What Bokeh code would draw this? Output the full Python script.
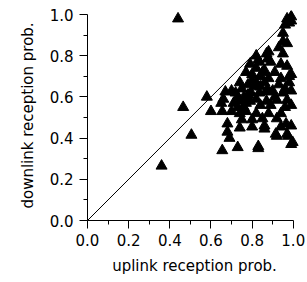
from bokeh.plotting import figure
from bokeh.models import Range1d, FixedTicker
from bokeh.embed import file_html
from bokeh.resources import INLINE

# uplink reception probability (x) and downlink reception probability (y)
uplink = [
    0.97, 0.99, 0.98, 0.96, 0.99, 0.95, 0.95, 0.97, 0.93, 0.88, 0.87, 0.95,
    0.875, 0.835, 0.89, 0.94, 0.97, 0.82, 0.86, 0.91, 0.98, 0.84, 0.88, 0.94,
    0.99, 0.80, 0.85,
    0.78, 0.81, 0.84, 0.875, 0.93, 0.98, 0.78, 0.795, 0.835, 0.87, 0.92, 0.97,
    0.89, 0.77, 0.80, 0.85, 0.92, 0.965, 0.99, 0.86, 0.94, 0.80, 0.86, 0.915,
    0.97, 0.997, 0.83,
    0.58, 0.67, 0.70, 0.66, 0.65, 0.71, 0.60, 0.655, 0.70, 0.74, 0.75, 0.68,
    0.74, 0.68, 0.69, 0.655, 0.73, 0.83, 0.99, 0.92, 0.975,
    0.72, 0.73, 0.74, 0.75, 0.76, 0.77, 0.79, 0.73, 0.76, 0.74, 0.77, 0.79,
    0.82, 0.83, 0.80, 0.82, 0.86, 0.90, 0.91, 0.95, 0.96, 0.99, 0.96, 0.99,
    0.94, 0.88, 0.82, 0.84, 0.87, 0.82,
    0.44, 0.465, 0.505, 0.36,
]
downlink = [
    0.98, 0.99, 0.96, 0.95, 0.97, 0.91, 0.87, 0.86, 0.84, 0.82, 0.81, 0.81,
    0.785, 0.77, 0.77, 0.76, 0.75, 0.74, 0.73, 0.72, 0.70, 0.70, 0.69, 0.69,
    0.71, 0.71, 0.72,
    0.66, 0.65, 0.65, 0.64, 0.66, 0.67, 0.61, 0.62, 0.62, 0.625, 0.585, 0.585,
    0.56, 0.53, 0.49, 0.495, 0.495, 0.47, 0.46, 0.46, 0.455, 0.455, 0.445, 0.42,
    0.42, 0.38, 0.36,
    0.60, 0.625, 0.63, 0.59, 0.57, 0.57, 0.53, 0.53, 0.53, 0.52, 0.49, 0.47,
    0.45, 0.43, 0.40, 0.34, 0.355, 0.35, 0.37, 0.41, 0.41,
    0.62, 0.60, 0.58, 0.64, 0.60, 0.57, 0.58, 0.55, 0.55, 0.67, 0.72, 0.76,
    0.80, 0.78, 0.68, 0.67, 0.67, 0.63, 0.60, 0.62, 0.64, 0.63, 0.55, 0.56,
    0.52, 0.52, 0.52, 0.56, 0.58, 0.59,
    0.98, 0.55, 0.415, 0.265,
]
diag = [0.0, 1.0]
ticks = [0.0, 0.2, 0.4, 0.6, 0.8, 1.0]
minor = [0.1, 0.3, 0.5, 0.7, 0.9]

FONT = "DejaVu Sans"
W, H = 307, 280
LEFT, TOP = 87, 10
FW, FH = 214, 210
p = figure(width=W, height=H, output_backend="svg", toolbar_location=None,
           x_range=Range1d(0, 1.04), y_range=Range1d(0, 1.02),
           min_border_left=LEFT, min_border_top=TOP,
           min_border_right=W - LEFT - FW, min_border_bottom=H - TOP - FH)
p.outline_line_color = None
p.xgrid.visible = False
p.ygrid.visible = False
p.background_fill_color = "white"
p.border_fill_color = "white"

p.line(diag, diag, line_color="black", line_width=1)
p.scatter(uplink, downlink, marker="triangle", size=11,
          fill_color="black", line_color="black")

for ax in (p.xaxis[0], p.yaxis[0]):
    ax.bounds = (0, 1)
    ax.ticker = FixedTicker(ticks=ticks, minor_ticks=minor)
    ax.major_tick_in = 0
    ax.major_tick_out = 8
    ax.minor_tick_in = 0
    ax.minor_tick_out = 4
    ax.major_label_text_font = FONT
    ax.major_label_text_font_size = "15px"
    ax.major_label_text_color = "black"
    ax.axis_label_text_font = FONT
    ax.axis_label_text_font_size = "15px"
    ax.axis_label_text_font_style = "normal"
    ax.axis_label_text_color = "black"
    ax.axis_line_color = "black"
    ax.major_tick_line_color = "black"
    ax.minor_tick_line_color = "black"

p.xaxis[0].axis_label = "uplink reception prob."
p.yaxis[0].axis_label = "downlink reception prob."
p.xaxis[0].major_label_standoff = 5
p.yaxis[0].major_label_standoff = 6
p.xaxis[0].axis_label_standoff = 8
p.yaxis[0].axis_label_standoff = 10
p.xaxis[0].major_label_overrides = {0: "0.0", 1: "1.0"}
p.yaxis[0].major_label_overrides = {0: "0.0", 1: "1.0"}

open("out.html", "w").write(file_html(p, INLINE))
